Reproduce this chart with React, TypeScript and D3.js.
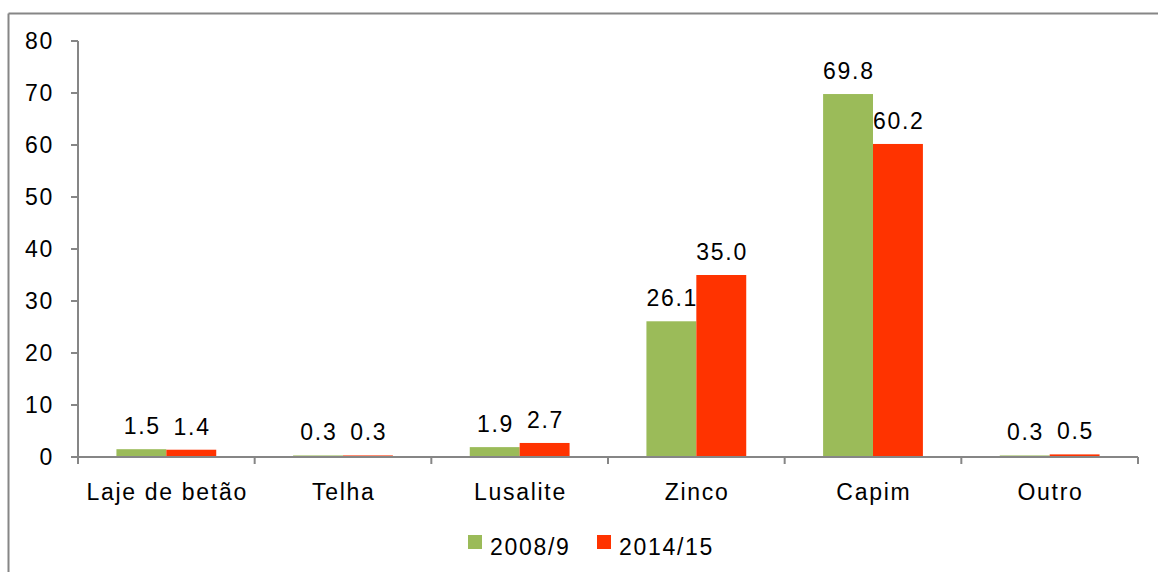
import * as d3 from "d3";

const categories = ["Laje de betão", "Telha", "Lusalite", "Zinco", "Capim", "Outro"];
const seriesNames = ["2008/9", "2014/15"];
const values2008 = [1.5, 0.3, 1.9, 26.1, 69.8, 0.3];
const values2014 = [1.4, 0.3, 2.7, 35.0, 60.2, 0.5];
const yTicks = [0, 10, 20, 30, 40, 50, 60, 70, 80];
const colors = ["#9BBB59", "#FF3300"];

const W = 1158;
const H = 572;
const axisColor = "#868686";
const font = "'Liberation Sans', Arial, sans-serif";
const ls = 1.7;

export default function App() {
  const x0 = d3.scaleBand().domain(categories).range([78, 1138]).paddingInner(0);
  const x1 = d3
    .scaleBand()
    .domain(seriesNames)
    .range([0, x0.bandwidth()])
    .paddingInner(0)
    .paddingOuter(0.77);
  const y = d3.scaleLinear().domain([0, 80]).range([457, 41]);
  const fmt = d3.format(".1f");
  const series = [values2008, values2014];

  // band boundaries for x ticks
  const bounds = categories.map((c) => x0(c)!).concat([x0.range()[1]]);

  return (
    <div style={{ position: "absolute", left: 0, top: 0 }}>
      <svg width={W} height={H} style={{ display: "block", fontFamily: font, letterSpacing: ls }}>
        <rect x={0} y={0} width={W} height={H} fill="#fff" />
        {/* outer frame */}
        <line x1={8.5} y1={13.5} x2={W} y2={13.5} stroke={axisColor} strokeWidth={2} />
        <line x1={8.5} y1={13.5} x2={8.5} y2={H} stroke={axisColor} strokeWidth={2} />

        {/* bars */}
        {series.map((vals, si) =>
          vals.map((v, i) => (
            <rect
              key={`b${si}-${i}`}
              x={x0(categories[i])! + x1(seriesNames[si])!}
              y={y(v)}
              width={x1.bandwidth()}
              height={y(0) - y(v)}
              fill={colors[si]}
            />
          )),
        )}

        {/* y axis */}
        <line x1={78} y1={y(80)} x2={78} y2={y(0)} stroke={axisColor} strokeWidth={2} />
        {yTicks.map((t) => (
          <g key={`yt${t}`}>
            <line x1={71} x2={78} y1={y(t)} y2={y(t)} stroke={axisColor} strokeWidth={2} />
            <text x={54} y={y(t)} dy="0.35em" textAnchor="end" fontSize={23} fill="#000">
              {t}
            </text>
          </g>
        ))}

        {/* x axis */}
        <line x1={78} y1={y(0)} x2={1138} y2={y(0)} stroke={axisColor} strokeWidth={2} />
        {bounds.map((bx, i) => (
          <line
            key={`xt${i}`}
            x1={bx}
            x2={bx}
            y1={y(0)}
            y2={y(0) + 7}
            stroke={axisColor}
            strokeWidth={2}
          />
        ))}
        {categories.map((c) => (
          <text
            key={`xl${c}`}
            x={x0(c)! + x0.bandwidth() / 2 + ls / 2}
            y={500}
            textAnchor="middle"
            fontSize={23}
            fill="#000"
          >
            {c}
          </text>
        ))}

        {/* data labels */}
        {series.map((vals, si) =>
          vals.map((v, i) => (
            <text
              key={`l${si}-${i}`}
              x={x0(categories[i])! + x1(seriesNames[si])! + x1.bandwidth() / 2 + ls / 2}
              y={y(v) - 15}
              textAnchor="middle"
              fontSize={23}
              fill="#000"
            >
              {fmt(v)}
            </text>
          )),
        )}

        {/* legend */}
        {seriesNames.map((s, si) => {
          const lx = si === 0 ? 468 : 597;
          return (
            <g key={`lg${s}`}>
              <rect x={lx} y={535} width={14} height={14} fill={colors[si]} />
              <text x={lx + 22} y={555} fontSize={23} fill="#000">
                {s}
              </text>
            </g>
          );
        })}
      </svg>
    </div>
  );
}
